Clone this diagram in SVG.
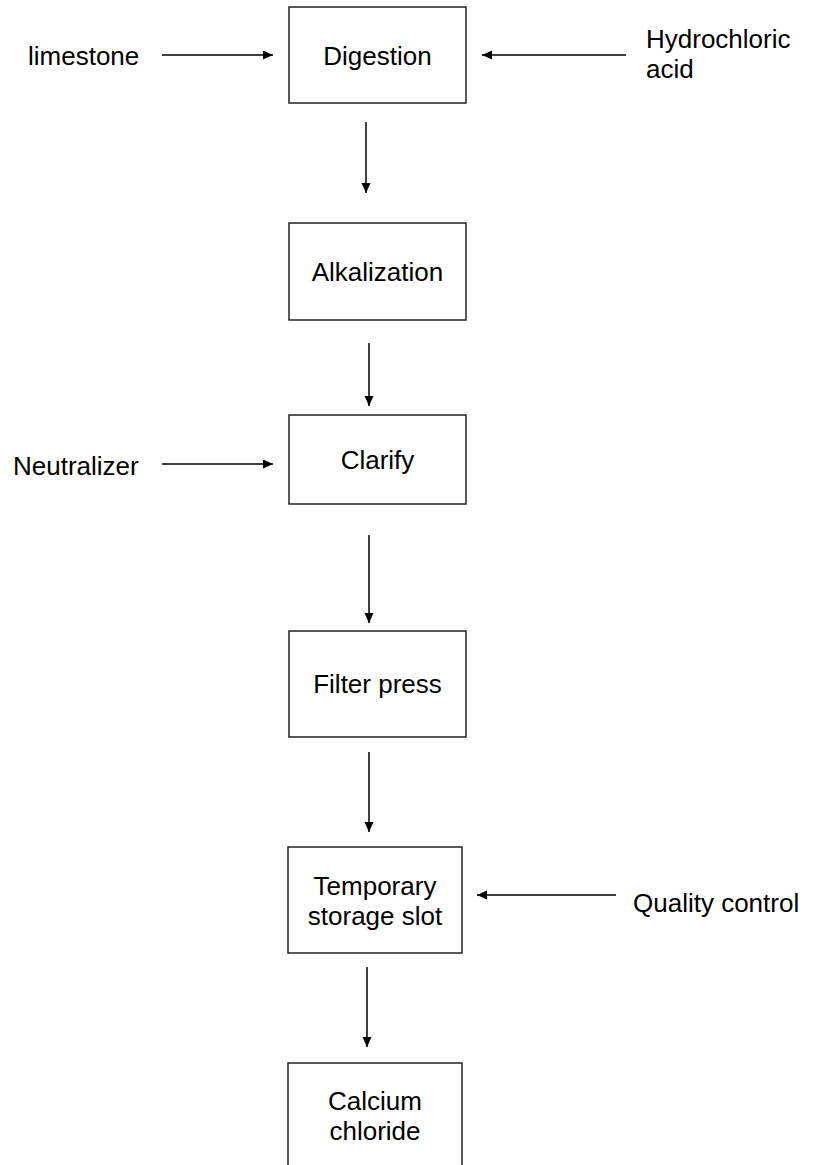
<svg xmlns="http://www.w3.org/2000/svg" width="817" height="1165" viewBox="0 0 817 1165">
<style>
.box{fill:#fff;stroke:#222;stroke-width:1.5}
.t{font-family:"Liberation Sans",Arial,sans-serif;font-size:26px;fill:#000}
.c{text-anchor:middle}
.ln{stroke:#000;stroke-width:1.5;fill:none;marker-end:url(#ah)}
</style>
<defs>
<marker id="ah" markerUnits="userSpaceOnUse" markerWidth="12" markerHeight="10" refX="10" refY="4.5" orient="auto">
<path d="M0,0 L10,4.5 L0,9 z" fill="#000"/>
</marker>
</defs>
<rect width="817" height="1165" fill="#fff"/>
<g id="connectors">
<line class="ln" x1="162" y1="55" x2="273" y2="55"/>
<line class="ln" x1="626" y1="55" x2="482" y2="55"/>
<line class="ln" x1="366" y1="122" x2="366" y2="193"/>
<line class="ln" x1="369" y1="343" x2="369" y2="406"/>
<line class="ln" x1="162" y1="464" x2="273" y2="464"/>
<line class="ln" x1="369" y1="535" x2="369" y2="623"/>
<line class="ln" x1="369" y1="752" x2="369" y2="832"/>
<line class="ln" x1="616" y1="895" x2="477" y2="895"/>
<line class="ln" x1="367" y1="967" x2="367" y2="1047"/>
</g>
<g id="limestone"><text class="t" x="28" y="65">limestone</text></g>
<g id="hydrochloric"><text class="t" x="646" y="48">Hydrochloric</text><text class="t" x="646" y="78">acid</text></g>
<g id="neutralizer"><text class="t" x="13" y="475">Neutralizer</text></g>
<g id="quality"><text class="t" x="633" y="912">Quality control</text></g>
<g id="digestion"><rect class="box" x="289" y="7" width="177" height="96"/><text class="t c" x="377.5" y="65">Digestion</text></g>
<g id="alkalization"><rect class="box" x="289" y="223" width="177" height="97"/><text class="t c" x="377.5" y="281">Alkalization</text></g>
<g id="clarify"><rect class="box" x="289" y="415" width="177" height="89"/><text class="t c" x="377.5" y="469">Clarify</text></g>
<g id="filter"><rect class="box" x="289" y="631" width="177" height="106"/><text class="t c" x="377.5" y="693">Filter press</text></g>
<g id="storage"><rect class="box" x="288" y="847" width="174" height="106"/><text class="t c" x="375" y="895">Temporary</text><text class="t c" x="375" y="925">storage slot</text></g>
<g id="calcium"><rect class="box" x="288" y="1063" width="174" height="130"/><text class="t c" x="375" y="1110">Calcium</text><text class="t c" x="375" y="1140">chloride</text></g>
</svg>
